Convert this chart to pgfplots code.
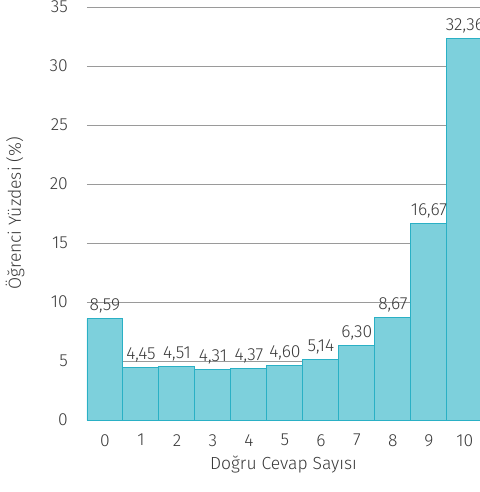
\documentclass[border=0pt]{standalone}
\usepackage{fontspec}
\setmainfont{Fira Sans Light}
\usepackage{pgfplots}
\pgfplotsset{compat=1.18}
\definecolor{barfill}{HTML}{7DD0DC}
\definecolor{baredge}{HTML}{2AB0C5}
\definecolor{txt}{HTML}{3A3A3A}
\definecolor{gridc}{HTML}{9A9A9A}
\begin{document}
\begin{tikzpicture}
\useasboundingbox (-87bp,-72bp) rectangle (393bp,420bp);
\begin{axis}[
    anchor=south west, at={(0,0)},
    scale only axis, width=393bp, height=413bp,
    xmin=-0.5, xmax=10.42, ymin=0, ymax=35,
    xtick={0,...,10}, ytick={0,5,...,35},
    major tick length=0pt,
    axis x line*=bottom, axis y line*=left,
    x axis line style={draw=gridc, line width=0.9pt, -},
    y axis line style={draw=none},
    ymajorgrids, grid style={gridc, line width=0.7pt},
    /pgf/number format/assume math mode=true,
    every tick label/.append style={font=\fontsize{17.5bp}{20bp}\selectfont, text=txt},
    yticklabel style={anchor=east, inner sep=0pt, xshift=-19bp},
    xticklabel style={anchor=north, inner sep=0pt, yshift=-14bp},
    xlabel={Doğru Cevap Sayısı},
    ylabel={Öğrenci Yüzdesi (\%)},
    xlabel style={at={(axis description cs:0.5,0)}, anchor=center, yshift=-45bp,
        font=\fontsize{17.5bp}{20bp}\selectfont, text=txt},
    ylabel style={at={(axis description cs:0,0.5)}, anchor=center, yshift=72bp,
        font=\fontsize{17.5bp}{20bp}\selectfont, text=txt},
    clip=true,
]
\addplot[ybar, bar width=1, bar shift=0pt, fill=barfill, draw=baredge, line width=1pt,
    nodes near coords={\pgfplotspointmeta},
    point meta=explicit symbolic,
    every node near coord/.append style={font=\fontsize{17.5bp}{20bp}\selectfont, text=txt,
        anchor=south, inner sep=0pt, yshift=5bp}]
coordinates {
    (0,8.59)[{8,59}]
    (1,4.45)[{4,45}]
    (2,4.51)[{4,51}]
    (3,4.31)[{4,31}]
    (4,4.37)[{4,37}]
    (5,4.60)[{4,60}]
    (6,5.14)[{5,14}]
    (7,6.30)[{6,30}]
    (8,8.67)[{8,67}]
    (9,16.67)[{16,67}]
    (10,32.36)[{32,36}]
};
\end{axis}
\end{tikzpicture}
\end{document}
